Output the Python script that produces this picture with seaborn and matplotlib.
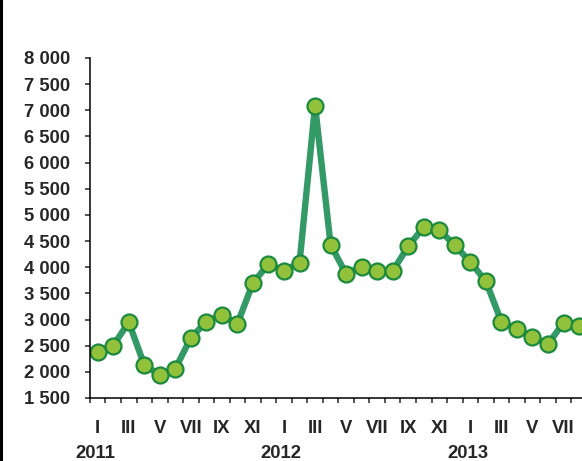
import numpy as np
import pandas as pd
import seaborn as sns
from matplotlib import pyplot as plt
from matplotlib.lines import Line2D

# monthly values, Jan 2011 - Aug 2013
values = [2380, 2500, 2950, 2130, 1940, 2060, 2650, 2960, 3090, 2920, 3700, 4060,
          3930, 4090, 7090, 4430, 3870, 4010, 3920, 3930, 4400, 4770, 4710, 4420,
          4100, 3730, 2960, 2810, 2660, 2530, 2940, 2880]
months = ["I", "II", "III", "IV", "V", "VI", "VII", "VIII", "IX", "X", "XI", "XII"]
years = ["2011", "2012", "2013"]
yticks = list(range(1500, 8001, 500))

df = pd.DataFrame({"idx": range(len(values)), "value": values})
df["month"] = [months[i % 12] for i in df["idx"]]

sns.set_style("ticks")
plt.rcParams["font.family"] = ["Liberation Sans", "DejaVu Sans"]
plt.rcParams["font.weight"] = "bold"

fs = 13.3

fig = plt.figure(figsize=(5.82, 4.61), dpi=100)
ax = fig.add_axes([0.1545, 0.1367, 0.9605, 0.7375])

sns.lineplot(data=df, x="idx", y="value", ax=ax, color="#339966", linewidth=4.6,
             marker="o", markersize=11.5, markerfacecolor="#92C13C",
             markeredgecolor="#1B8A3E", markeredgewidth=1.6)

ax.set_xlim(-0.5, 35.5)
ax.set_ylim(1500, 8000)
ax.set_yticks(yticks)
ax.set_yticklabels([f"{v:,}".replace(",", " ") for v in yticks], fontsize=fs, fontweight="bold")

# tick marks between months, labels every second month
ax.set_xticks(np.arange(-0.5, 36, 1))
ax.set_xticklabels([])
lab_idx = [i for i in range(31) if i % 2 == 0]
ax.set_xticks(lab_idx, minor=True)
ax.set_xticklabels([months[i % 12] for i in lab_idx], minor=True, fontsize=fs, fontweight="bold")
ax.tick_params(axis="x", which="minor", length=0, pad=16)
ax.tick_params(axis="x", which="major", length=3.6, width=1.1, direction="out")
ax.tick_params(axis="y", length=3.6, width=1.1, pad=10.5)

for k, yr in enumerate(years):
    ax.annotate(yr, xy=(k * 12, 0), xycoords=("data", "axes fraction"),
                xytext=(-2, -40), textcoords="offset points",
                ha="center", va="center", fontsize=fs, fontweight="bold")

ax.set_xlabel("")
ax.set_ylabel("")
sns.despine(ax=ax)
for s in ["left", "bottom"]:
    ax.spines[s].set_linewidth(1.1)
    ax.spines[s].set_color("black")

fig.add_artist(Line2D([0.002, 0.002], [0, 1], color="black", linewidth=2.2, transform=fig.transFigure))

fig.savefig("out.png", dpi=100)
